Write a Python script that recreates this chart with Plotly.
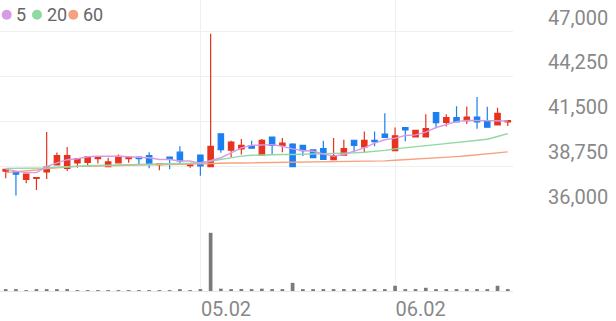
import plotly.graph_objects as go

# ---- data ----
opens = [38440, 38420, 37940, 38000, 38400, 38830, 38620, 38950, 38990, 39220,
         38720, 38960, 39220, 39310, 39400, 38840, 39310, 39610, 38780, 39430,
         38720, 40740, 39730, 39810, 40010, 39430, 40540, 40030, 40110, 40030,
         39750, 39830, 39150, 39430, 40340, 39930, 40340, 40720, 39710, 41120,
         40540, 40540, 42030, 41440, 41730, 41540, 41760, 41520, 41280, 41460]
highs = [38600, 38460, 38260, 38060, 40840, 39590, 39930, 39220, 39330, 39310,
         39270, 39470, 39310, 39310, 39610, 38900, 39310, 39970, 38860, 39470,
         46860, 40760, 40310, 40410, 40310, 40410, 40540, 40480, 40150, 40030,
         39750, 40310, 40480, 40370, 40340, 40880, 40880, 41990, 41120, 41120,
         40980, 41930, 42030, 41940, 42430, 42410, 42990, 42390, 42330, 41540]
lows = [38020, 36950, 37710, 37290, 37960, 38830, 38460, 38660, 38740, 38920,
        38720, 38960, 38960, 38860, 38620, 38500, 38560, 38860, 38660, 38160,
        38720, 39570, 39310, 39470, 39850, 39430, 39470, 39610, 38720, 39370,
        39270, 39160, 39150, 39430, 39570, 39570, 39970, 40520, 39710, 40280,
        40540, 40540, 41080, 41180, 41460, 41340, 41040, 41140, 41280, 41220]
closes = [38560, 38260, 38260, 38060, 38700, 39400, 39400, 39220, 39330, 39310,
          39010, 39350, 39310, 39220, 38860, 38900, 39190, 39070, 38860, 38770,
          39970, 39770, 40220, 40030, 39850, 40340, 40030, 40160, 38720, 39710,
          39270, 39160, 39400, 39830, 40030, 40340, 40250, 40520, 40610, 40980,
          40940, 41060, 41420, 41730, 41460, 41760, 41460, 41140, 41990, 41540]
ma5 = [38560, 38480, 38360, 38360, 38720, 38960, 39150, 39210, 39330, 39360,
       39370, 39360, 39330, 39310, 39270, 39160, 39160, 39070, 39070, 38920,
       39100, 39270, 39570, 39870, 40030, 40070, 40070, 39970, 39810, 39710,
       39670, 39510, 39370, 39470, 39670, 39870, 40170, 40370, 40470, 40630,
       40670, 40840, 41120, 41280, 41480, 41560, 41560, 41560, 41560, 41520]
ma20 = [38620, 38620, 38630, 38630, 38640, 38690, 38730, 38760, 38780, 38800,
        38810, 38820, 38830, 38840, 38860, 38870, 38880, 38900, 38930, 38960,
        39070, 39180, 39300, 39370, 39420, 39450, 39460, 39470, 39470, 39480,
        39490, 39500, 39510, 39540, 39570, 39610, 39660, 39720, 39810, 39890,
        39950, 40010, 40070, 40140, 40210, 40280, 40340, 40400, 40570, 40750]
ma60 = [38360, 38400, 38460, 38520, 38600, 38660, 38700, 38740, 38750, 38770,
        38780, 38800, 38810, 38820, 38830, 38840, 38860, 38870, 38890, 38900,
        38920, 38930, 38950, 38950, 38960, 38960, 38960, 38970, 38980, 38980,
        38990, 38990, 39010, 39020, 39020, 39040, 39060, 39080, 39120, 39150,
        39180, 39210, 39250, 39290, 39340, 39390, 39450, 39510, 39570, 39630]
volumes = [20, 30, 15, 25, 30, 20, 30, 15, 10, 10,
           10, 10, 10, 10, 15, 15, 15, 20, 15, 25,
           1000, 40, 30, 35, 30, 40, 30, 25, 140, 30,
           25, 30, 25, 30, 25, 30, 25, 30, 90, 30,
           25, 55, 30, 25, 25, 20, 25, 30, 90, 20]
x_tick_pos = [19, 38]
x_tick_labels = ["05.02", "06.02"]
price_ticks = [36000, 38750, 41500, 44250, 47000]
ma_names = ["5", "20", "60"]

# ---- style ----
RED = "#e8321e"
BLUE = "#1b7ff0"
MA_COLORS = ["#d79be6", "#8fd9a2", "#f7a27f"]
GRID = "#efefef"
LABEL = "#888888"

idx = list(range(len(closes)))

fig = go.Figure()
for vals, name, col in zip([ma60, ma20, ma5], ma_names[::-1], MA_COLORS[::-1]):
    fig.add_trace(go.Scatter(x=idx, y=vals, mode="lines", name=name,
                             line=dict(color=col, width=1.4), xaxis="x", yaxis="y",
                             showlegend=False, hoverinfo="skip"))
fig.add_trace(go.Candlestick(
    x=idx, open=opens, high=highs, low=lows, close=closes,
    increasing=dict(line=dict(color=RED, width=1.2), fillcolor=RED),
    decreasing=dict(line=dict(color=BLUE, width=1.2), fillcolor=BLUE),
    whiskerwidth=0, xaxis="x", yaxis="y", showlegend=False))
fig.add_trace(go.Bar(x=idx, y=volumes, marker=dict(color="#7a7a7a", line=dict(width=0)),
                     width=0.36, xaxis="x2", yaxis="y2", showlegend=False))

PLOT_W, PLOT_H = 513, 295
split = (PLOT_H - 214) / PLOT_H
vmax = max(volumes)

# legend: bullet centres and text starts (px from left), centre line (px from top)
bullet_px = [6.7, 37, 73.3]
text_px = [14, 45, 81]
legend_y = 1 - 15 / PLOT_H
annotations = []
shapes = []
for n, c, bx, tx in zip(ma_names, MA_COLORS, bullet_px, text_px):
    shapes.append(dict(type="circle", xref="paper", yref="paper",
                       xsizemode="pixel", ysizemode="pixel",
                       xanchor=bx / PLOT_W, yanchor=legend_y,
                       x0=-5, x1=5, y0=-5, y1=5,
                       fillcolor=c, line=dict(width=0)))
    annotations.append(dict(xref="paper", yref="paper", x=tx / PLOT_W, y=legend_y,
                            xanchor="left", yanchor="middle", showarrow=False,
                            text=n, font=dict(size=18, color="#666666")))

fig.update_layout(
    width=616, height=321,
    margin=dict(l=0, r=616 - PLOT_W, t=0, b=321 - PLOT_H),
    paper_bgcolor="white", plot_bgcolor="white",
    font=dict(family="Roboto", color=LABEL),
    boxgap=0.25,
    xaxis=dict(domain=[0, 1], anchor="y", range=[-0.556, 49.51],
               tickvals=x_tick_pos, showticklabels=False, showgrid=True,
               gridcolor=GRID, gridwidth=1, zeroline=False,
               rangeslider=dict(visible=False), fixedrange=True),
    xaxis2=dict(domain=[0, 1], anchor="y2", matches="x",
                tickvals=x_tick_pos, ticktext=x_tick_labels,
                ticklabelposition="outside right", tickfont=dict(size=20, color=LABEL),
                showgrid=True, gridcolor=GRID, zeroline=False,
                showline=True, linecolor="#e6e6e6", linewidth=1, ticks=""),
    yaxis=dict(domain=[split, 1], anchor="x", side="right",
               range=[36000, 47000 + 32 / (182 / 11000)],
               tickvals=price_ticks, ticktext=[f"{v:,}" for v in price_ticks],
               ticklabelposition="outside top", ticklabelstandoff=34,
               tickfont=dict(size=20, color=LABEL),
               showgrid=True, gridcolor=GRID, zeroline=False, ticks=""),
    yaxis2=dict(domain=[0, split], anchor="x2", range=[0, vmax * 81 / 59],
                showticklabels=False, showgrid=False, zeroline=False),
    shapes=shapes,
    annotations=annotations,
)

fig.write_html("out.html")
